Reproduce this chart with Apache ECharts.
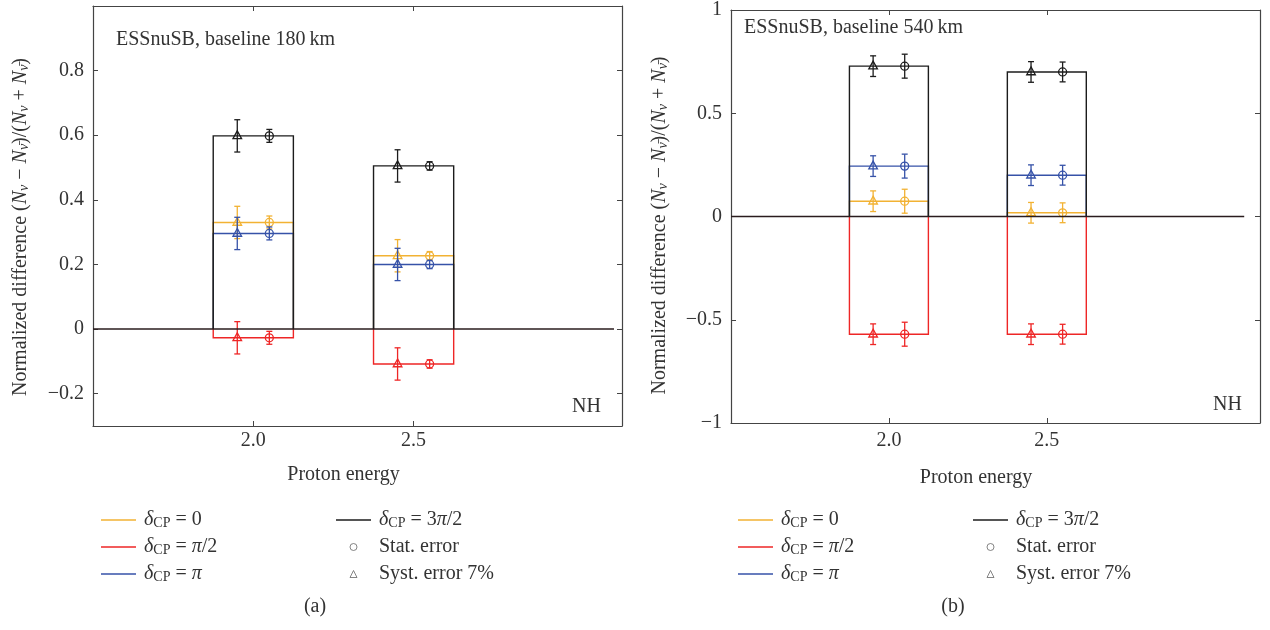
<!DOCTYPE html>
<html><head><meta charset="utf-8">
<script src="https://cdn.jsdelivr.net/npm/echarts@6/dist/echarts.min.js"></script>
<style>html,body{margin:0;padding:0;background:#fff}#c{width:1270px;height:630px}</style>
</head><body><div id="c"></div>
<script>
// ---------- data ----------
const energies = [2.0, 2.5];
const deltaNames = ['δCP = 0', 'δCP = π/2', 'δCP = π', 'δCP = 3π/2'];
const deltaColors = ['#f2b233', '#ee2626', '#3652a8', '#1c1c1c'];
const xTickValues = [2.0, 2.5];

// panel (a): baseline 180 km
const a_d0     = [0.330, 0.227];
const a_dpi2   = [-0.027, -0.108];
const a_dpi    = [0.296, 0.200];
const a_d3pi2  = [0.598, 0.505];
const a_syst   = [0.05, 0.05];
const a_stat   = [0.020, 0.013];
const a_yTicks = [-0.2, 0, 0.2, 0.4, 0.6, 0.8];

// panel (b): baseline 540 km
const b_d0     = [0.074, 0.018];
const b_dpi2   = [-0.570, -0.570];
const b_dpi    = [0.244, 0.200];
const b_d3pi2  = [0.728, 0.700];
const b_syst   = [0.05, 0.05];
const b_stat   = [0.058, 0.048];
const b_yTicks = [-1, -0.5, 0, 0.5, 1];

// ---------- style / layout ----------
const FONT = 'Liberation Serif';
const TXT = '#333';
const HALF = 0.125;   // half box width (x units)
const OFF = 0.05;     // marker offset from box centre
const zeroLineX = [1.5, 3.125];

function renderBox(params, api) {
  const x = api.value(0), v = api.value(1), se = api.value(2), st = api.value(3);
  const c = api.visual('color');
  const p0 = api.coord([x - HALF, 0]), p1 = api.coord([x - HALF, v]);
  const p2 = api.coord([x + HALF, v]), p3 = api.coord([x + HALF, 0]);
  const ch = [{type: 'polyline', shape: {points: [p0, p1, p2, p3]}, style: {stroke: c, fill: null, lineWidth: 1.4}}];
  function errbar(xx, e) {
    const t = api.coord([xx, v + e]), b = api.coord([xx, v - e]);
    ch.push({type: 'line', shape: {x1: t[0], y1: t[1], x2: b[0], y2: b[1]}, style: {stroke: c, lineWidth: 1.3}});
    ch.push({type: 'line', shape: {x1: t[0] - 3, y1: t[1], x2: t[0] + 3, y2: t[1]}, style: {stroke: c, lineWidth: 1.3}});
    ch.push({type: 'line', shape: {x1: b[0] - 3, y1: b[1], x2: b[0] + 3, y2: b[1]}, style: {stroke: c, lineWidth: 1.3}});
    return api.coord([xx, v]);
  }
  const pt = errbar(x - OFF, se);
  ch.push({type: 'polygon', shape: {points: [[pt[0], pt[1] - 5], [pt[0] - 4.3, pt[1] + 2.8], [pt[0] + 4.3, pt[1] + 2.8]]}, style: {stroke: c, fill: null, lineWidth: 1.3}});
  const pc = errbar(x + OFF, st);
  ch.push({type: 'circle', shape: {cx: pc[0], cy: pc[1], r: 4}, style: {stroke: c, fill: null, lineWidth: 1.3}});
  return {type: 'group', children: ch};
}

function boxData(vals, syst, stat) {
  return energies.map((e, i) => [e, vals[i], syst[i], stat[i]]);
}

const richBase = {
  n: {fontFamily: FONT, fontSize: 20, color: TXT, lineHeight: 20, verticalAlign: 'top'},
  i: {fontFamily: FONT, fontSize: 20, color: TXT, fontStyle: 'italic', lineHeight: 20, verticalAlign: 'top'},
  d: {fontFamily: FONT, fontSize: 20, color: TXT, fontStyle: 'italic', lineHeight: 20, verticalAlign: 'top', padding: [0, 0, 0, 3]},
  t: {fontFamily: FONT, fontSize: 20, color: TXT, lineHeight: 20, verticalAlign: 'top', padding: [0, 0, 0, 3]},
  s: {fontFamily: FONT, fontSize: 14, color: TXT, lineHeight: 6, verticalAlign: 'bottom'},
  sv: {fontFamily: FONT, fontSize: 14, color: TXT, fontStyle: 'italic', lineHeight: 6, verticalAlign: 'bottom'}
};
const legendText = {
  'δCP = 0': '{d|δ}{s|CP}{n| = 0}',
  'δCP = π/2': '{d|δ}{s|CP}{n| = }{i|π}{n|/2}',
  'δCP = π': '{d|δ}{s|CP}{n| = }{i|π}',
  'δCP = 3π/2': '{d|δ}{s|CP}{n| = 3}{i|π}{n|/2}',
  'Stat. error': '{t|Stat. error}',
  'Syst. error 7%': '{t|Syst. error 7%}'
};
const yName = '{n|Normalized difference (}{i|N}{sv|ν}{n| − }{i|N}{sv|ν̄}{n|)/(}{i|N}{sv|ν}{n| + }{i|N}{sv|ν̄}{n|)}';
const lineIcon = 'path://M0 0H35V1.5H0Z';

function fmtY(v) {
  if (Math.abs(v) < 1e-9) return '0';
  return (v < 0 ? '−' : '') + (+Math.abs(v).toFixed(2));
}

const panels = [
  {grid: {left: 93, top: 6, width: 529, height: 420}, xMax: 3.15, yMin: -0.3, yMax: 1.0, yTicks: a_yTicks,
   sets: [a_d0, a_dpi2, a_dpi, a_d3pi2], syst: a_syst, stat: a_stat, xNamePad: 28, xLabelMargin: 5, xNameGap: 39,
   yNamePad: 22, yNameGap: 62, legendLeft: [96, 331]},
  {grid: {left: 731, top: 3, width: 529, height: 420}, xMax: 3.175, yMin: -1, yMax: 1, yTicks: b_yTicks,
   sets: [b_d0, b_dpi2, b_dpi, b_d3pi2], syst: b_syst, stat: b_stat, xNamePad: 39, xLabelMargin: 8, xNameGap: 45,
   yNamePad: 18, yNameGap: 61, legendLeft: [733, 968]}
];

const option = {
  animation: false,
  backgroundColor: '#fff',
  grid: [], xAxis: [], yAxis: [], series: [], legend: [],
  graphic: [
    {type: 'text', x: 116, y: 40, style: {text: 'ESSnuSB, baseline 180\u2009km', font: '20px "Liberation Serif"', fill: TXT, verticalAlign: 'middle'}},
    {type: 'text', x: 744, y: 28, style: {text: 'ESSnuSB, baseline 540\u2009km', font: '20px "Liberation Serif"', fill: TXT, verticalAlign: 'middle'}},
    {type: 'text', x: 601, y: 407, style: {text: 'NH', font: '20px "Liberation Serif"', fill: TXT, align: 'right', verticalAlign: 'middle'}},
    {type: 'text', x: 1242, y: 405, style: {text: 'NH', font: '20px "Liberation Serif"', fill: TXT, align: 'right', verticalAlign: 'middle'}},
    {type: 'text', x: 315, y: 607, style: {text: '(a)', font: '20px "Liberation Serif"', fill: TXT, align: 'center', verticalAlign: 'middle'}},
    {type: 'text', x: 953, y: 607, style: {text: '(b)', font: '20px "Liberation Serif"', fill: TXT, align: 'center', verticalAlign: 'middle'}}
  ]
};

const axisLineStyle = {show: true, onZero: false, lineStyle: {color: '#444', width: 1.2}};
panels.forEach((p, k) => {
  option.grid.push(p.grid);
  const xBase = {type: 'value', gridIndex: k, min: 1.5, max: p.xMax, splitLine: {show: false}, axisLine: axisLineStyle,
    axisTick: {show: true, inside: true, length: 5, customValues: xTickValues, lineStyle: {color: '#444'}}};
  option.xAxis.push(Object.assign({}, xBase, {position: 'bottom',
    axisLabel: {show: true, customValues: xTickValues, formatter: v => v.toFixed(1), fontFamily: FONT, fontSize: 20, color: TXT, margin: p.xLabelMargin},
    name: 'Proton energy', nameLocation: 'middle', nameGap: p.xNameGap,
    nameTextStyle: {fontFamily: FONT, fontSize: 20, color: TXT, padding: [0, p.xNamePad, 0, 0]}}));
  option.xAxis.push(Object.assign({}, xBase, {position: 'top', axisLabel: {show: false}}));
  const yBase = {type: 'value', gridIndex: k, min: p.yMin, max: p.yMax, splitLine: {show: false}, axisLine: axisLineStyle,
    axisTick: {show: true, inside: true, length: 5, customValues: p.yTicks, lineStyle: {color: '#444'}}};
  option.yAxis.push(Object.assign({}, yBase, {position: 'left',
    axisLabel: {show: true, customValues: p.yTicks, formatter: fmtY, fontFamily: FONT, fontSize: 20, color: TXT, margin: 9},
    name: yName, nameLocation: 'middle', nameRotate: 90, nameGap: p.yNameGap,
    nameTextStyle: {padding: [0, p.yNamePad, 0, 0], rich: richBase}}));
  option.yAxis.push(Object.assign({}, yBase, {position: 'right', axisLabel: {show: false}}));

  const xi = k * 2, yi = k * 2;
  p.sets.forEach((vals, j) => {
    option.series.push({type: 'custom', name: deltaNames[j], xAxisIndex: xi, yAxisIndex: yi,
      itemStyle: {color: deltaColors[j]}, renderItem: renderBox, data: boxData(vals, p.syst, p.stat), z: 2 + j});
  });
  option.series.push({type: 'line', name: 'zero', xAxisIndex: xi, yAxisIndex: yi, data: zeroLineX.map(x => [x, 0]),
    symbol: 'none', lineStyle: {color: '#2a1c1e', width: 1.5}, z: 10, silent: true});
  option.series.push({type: 'scatter', name: 'Stat. error', xAxisIndex: xi, yAxisIndex: yi, data: [], itemStyle: {color: '#666'}});
  option.series.push({type: 'scatter', name: 'Syst. error 7%', xAxisIndex: xi, yAxisIndex: yi, data: [], itemStyle: {color: '#666'}});

  const legBase = {orient: 'vertical', top: 505, itemWidth: 35, itemHeight: 7, itemGap: 7, selectedMode: false,
    symbolKeepAspect: true,
    formatter: n => legendText[n], textStyle: {fontFamily: FONT, fontSize: 20, color: TXT, rich: richBase}};
  option.legend.push(Object.assign({}, legBase, {left: p.legendLeft[0],
    data: deltaNames.slice(0, 3).map(n => ({name: n, icon: lineIcon}))}));
  option.legend.push(Object.assign({}, legBase, {left: p.legendLeft[1],
    data: [{name: deltaNames[3], icon: lineIcon},
           {name: 'Stat. error', icon: 'circle', itemStyle: {color: '#fff', borderColor: '#666', borderWidth: 1}},
           {name: 'Syst. error 7%', icon: 'path://M3.5 0L7 7H0Z', itemStyle: {color: '#fff', borderColor: '#666', borderWidth: 1}}]}));
});

const chart = echarts.init(document.getElementById('c'), null, {renderer: 'canvas'});
chart.setOption(option);
</script>
</body></html>
